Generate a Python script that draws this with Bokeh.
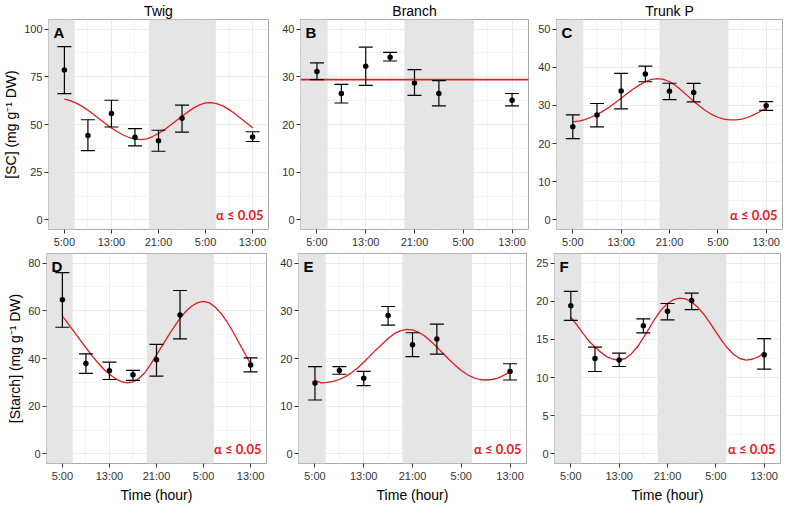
from bokeh.plotting import figure
from bokeh.layouts import column, row
from bokeh.models import Range1d, FixedTicker, Whisker, TeeHead, ColumnDataSource, Span, Label
from bokeh.embed import file_html
from bokeh.resources import INLINE

# ---------------- data ----------------
sample_hours = [5, 9, 13, 17, 21, 25, 37]
fit_hours = list(range(5, 38))
tick_hours = [5, 13, 21, 29, 37]
tick_labels = ["5:00", "13:00", "21:00", "5:00", "13:00"]
night_start = [-4.65, 19.35]
night_end = [6.75, 30.75]

col_titles = ["Twig", "Branch", "Trunk P"]
row_labels = ["[SC] (mg g\u207b\u00b9 DW)", "[Starch] (mg g\u207b\u00b9 DW)"]
x_title = "Time (hour)"
sig_text = "\u03b1 \u2264 0.05"

# A: SC twig
A_mean = [78.6, 44.3, 55.7, 43.3, 41.5, 53.3, 43.5]
A_hi = [90.8, 52.5, 62.7, 47.8, 47.0, 60.2, 46.2]
A_lo = [66.2, 36.3, 48.7, 38.8, 36.0, 46.0, 41.1]
A_fit = [63.3, 62.5, 61.2, 59.5, 57.5, 55.2, 52.8, 50.4, 48.2, 46.2, 44.5, 43.2, 42.4, 42.1, 42.5, 43.7,
         45.3, 47.3, 49.6, 52.0, 54.3, 56.6, 58.7, 60.3, 61.3, 61.4, 60.8, 59.6, 57.8, 55.6, 53.2, 50.8, 48.3]
A_ticks = [0, 25, 50, 75, 100]

# B: SC branch
B_mean = [31.1, 26.5, 32.2, 34.1, 28.7, 26.5, 25.1]
B_hi = [32.9, 28.4, 36.2, 35.1, 31.5, 29.2, 26.5]
B_lo = [29.4, 24.5, 28.2, 33.3, 26.1, 23.9, 23.9]
B_fit = 29.4
B_ticks = [0, 10, 20, 30, 40]

# C: SC trunk P
C_mean = [24.4, 27.5, 33.75, 38.25, 33.7, 33.4, 29.9]
C_hi = [27.5, 30.5, 38.4, 40.3, 35.8, 35.75, 31.0]
C_lo = [21.3, 24.4, 29.1, 36.2, 31.5, 30.9, 28.7]
C_fit = [25.7, 25.9, 26.3, 26.9, 27.6, 28.5, 29.5, 30.7, 31.9, 33.1, 34.3, 35.3, 36.2, 36.8, 37.0, 36.8,
         36.2, 35.2, 33.9, 32.5, 31.1, 29.8, 28.6, 27.6, 26.9, 26.4, 26.2, 26.2, 26.4, 26.9, 27.6, 28.4, 29.3]
C_ticks = [0, 10, 20, 30, 40, 50]

# D: starch twig
D_mean = [64.6, 37.9, 34.9, 33.2, 39.5, 58.2, 37.3]
D_hi = [76.0, 41.9, 38.5, 35.0, 45.9, 68.5, 40.3]
D_lo = [53.1, 33.8, 31.2, 30.8, 32.6, 48.2, 34.4]
D_fit = [57.8, 54.5, 51.2, 47.8, 44.5, 41.3, 38.3, 35.6, 33.4, 31.6, 30.3, 29.8, 30.2, 31.6, 34.0, 37.5,
         41.5, 45.5, 49.5, 53.3, 56.8, 59.8, 62.0, 63.4, 63.9, 63.3, 61.5, 58.8, 55.3, 51.2, 46.7, 42.2, 37.7]
D_ticks = [0, 20, 40, 60, 80]

# E: starch branch
E_mean = [14.85, 17.5, 15.85, 29.0, 22.9, 24.1, 17.3]
E_hi = [18.3, 18.3, 17.3, 30.9, 25.4, 27.2, 18.9]
E_lo = [11.3, 16.7, 14.3, 27.0, 20.4, 20.9, 15.5]
E_fit = [15.4, 14.9, 15.0, 15.2, 15.6, 16.2, 17.0, 18.0, 19.2, 20.5, 21.8, 23.0, 24.2, 25.2, 25.8, 26.1,
         26.0, 25.5, 24.7, 23.6, 22.4, 21.1, 19.8, 18.6, 17.5, 16.6, 16.0, 15.6, 15.5, 15.6, 15.9, 16.5, 17.2]
E_ticks = [0, 10, 20, 30, 40]

# F: starch trunk P
F_mean = [19.4, 12.5, 12.3, 16.8, 18.7, 20.1, 13.0]
F_hi = [21.3, 14.0, 13.2, 17.7, 19.7, 21.05, 15.1]
F_lo = [17.5, 10.8, 11.45, 15.85, 17.55, 18.9, 11.1]
F_fit = [17.9, 16.9, 15.8, 14.8, 14.0, 13.3, 12.7, 12.4, 12.3, 12.5, 13.1, 14.0, 15.2, 16.5, 17.8, 18.9,
         19.7, 20.2, 20.4, 20.3, 19.9, 19.2, 18.3, 17.2, 16.0, 14.8, 13.8, 13.0, 12.5, 12.3, 12.4, 12.7, 13.2]
F_ticks = [0, 5, 10, 15, 20, 25]

# ---------------- style ----------------
FONT = "Liberation Sans"
RED = "#e41a1c"
X0, X1 = 2.3, 39.7


def panel(letter, mean, lo, hi, fit, yticks, fw, fh, bl, br, bt, bb,
          title=None, ylabel=None, xlabel=None, sig=True):
    span = yticks[-1] - yticks[0]
    y0 = yticks[0] - 0.05 * span
    y1 = yticks[-1] + 0.05 * span
    kw = dict(frame_width=fw, frame_height=fh, x_range=Range1d(X0, X1), y_range=Range1d(y0, y1),
              output_backend="svg", toolbar_location=None,
              min_border_left=bl, min_border_right=br, min_border_top=bt, min_border_bottom=bb)
    if title:
        kw["title"] = title
    p = figure(**kw)
    p.background_fill_color = "white"
    p.border_fill_color = "white"
    p.outline_line_color = "#a8a8a8"
    p.outline_line_width = 1
    if title:
        p.title.text_font = FONT
        p.title.text_font_size = "14px"
        p.title.text_font_style = "normal"
        p.title.text_color = "black"
        p.title.align = "center"
        p.title.standoff = 1

    step = yticks[1] - yticks[0]
    minor_y = [t + step / 2 for t in yticks[:-1]]
    p.xaxis.ticker = FixedTicker(ticks=tick_hours, minor_ticks=[1, 9, 17, 25, 33])
    p.yaxis.ticker = FixedTicker(ticks=yticks, minor_ticks=minor_y)
    p.xaxis.major_label_overrides = {h: l for h, l in zip(tick_hours, tick_labels)}
    for g in (p.xgrid, p.ygrid):
        g.grid_line_color = "#ebebeb"
        g.grid_line_width = 1
        g.minor_grid_line_color = "#f4f4f4"
    for ax in (p.xaxis, p.yaxis):
        ax.axis_line_color = None
        ax.major_tick_line_color = "#333333"
        ax.major_tick_in = 0
        ax.major_tick_out = 4
        ax.minor_tick_line_color = None
        ax.major_label_text_font = FONT
        ax.major_label_text_font_size = "11px"
        ax.major_label_text_color = "#333333"
        ax.major_label_standoff = 2
        ax.axis_label_text_font = FONT
        ax.axis_label_text_font_size = "14px"
        ax.axis_label_text_font_style = "normal"
        ax.axis_label_text_color = "black"
        ax.axis_label_standoff = 2
    if ylabel:
        p.yaxis.axis_label = ylabel
    if xlabel:
        p.xaxis.axis_label = xlabel

    # night shading
    p.quad(left=night_start, right=night_end, bottom=y0, top=y1,
           fill_color="#e5e5e5", line_color=None)

    # fitted curve
    if isinstance(fit, list):
        p.line(fit_hours, fit, line_color=RED, line_width=1.3)
    else:
        p.add_layout(Span(location=fit, dimension="width", line_color=RED, line_width=1.6))

    src = ColumnDataSource(dict(t=sample_hours, m=mean, lo=lo, hi=hi))
    w = Whisker(source=src, base="t", upper="hi", lower="lo", line_color="black", line_width=1.2,
                upper_head=TeeHead(size=14, line_color="black", line_width=1.2),
                lower_head=TeeHead(size=14, line_color="black", line_width=1.2),
                level="annotation")
    p.add_layout(w)
    p.scatter("t", "m", source=src, size=5.5, fill_color="black", line_color=None)

    p.add_layout(Label(x=X0, y=y1, x_offset=5, y_offset=-4, text=letter, text_baseline="top",
                       text_align="left", text_font=FONT, text_font_style="bold",
                       text_font_size="15px", text_color="black"))
    if sig:
        p.add_layout(Label(x=X1, y=y0, x_offset=-5, y_offset=7, text=sig_text, text_baseline="bottom",
                           text_align="right", text_font="Lato", text_font_style="bold",
                           text_font_size="13px", text_color=RED))
    return p


FH = 210
pA = panel("A", A_mean, A_lo, A_hi, A_fit, A_ticks, 220, FH, 46, 6, 0, 20, title=col_titles[0], ylabel=row_labels[0])
pB = panel("B", B_mean, B_lo, B_hi, B_fit, B_ticks, 228, FH, 26, 4, 0, 20, title=col_titles[1], sig=False)
pC = panel("C", C_mean, C_lo, C_hi, C_fit, C_ticks, 226, FH, 24, 3, 0, 20, title=col_titles[2])
pD = panel("D", D_mean, D_lo, D_hi, D_fit, D_ticks, 220, FH, 46, 6, 3, 39, ylabel=row_labels[1], xlabel=x_title)
pE = panel("E", E_mean, E_lo, E_hi, E_fit, E_ticks, 228, FH, 26, 4, 3, 39, xlabel=x_title)
pF = panel("F", F_mean, F_lo, F_hi, F_fit, F_ticks, 226, FH, 24, 3, 3, 39, xlabel=x_title)

layout = column(row(pA, pB, pC), row(pD, pE, pF))
open("out.html", "w").write(file_html(layout, INLINE))
